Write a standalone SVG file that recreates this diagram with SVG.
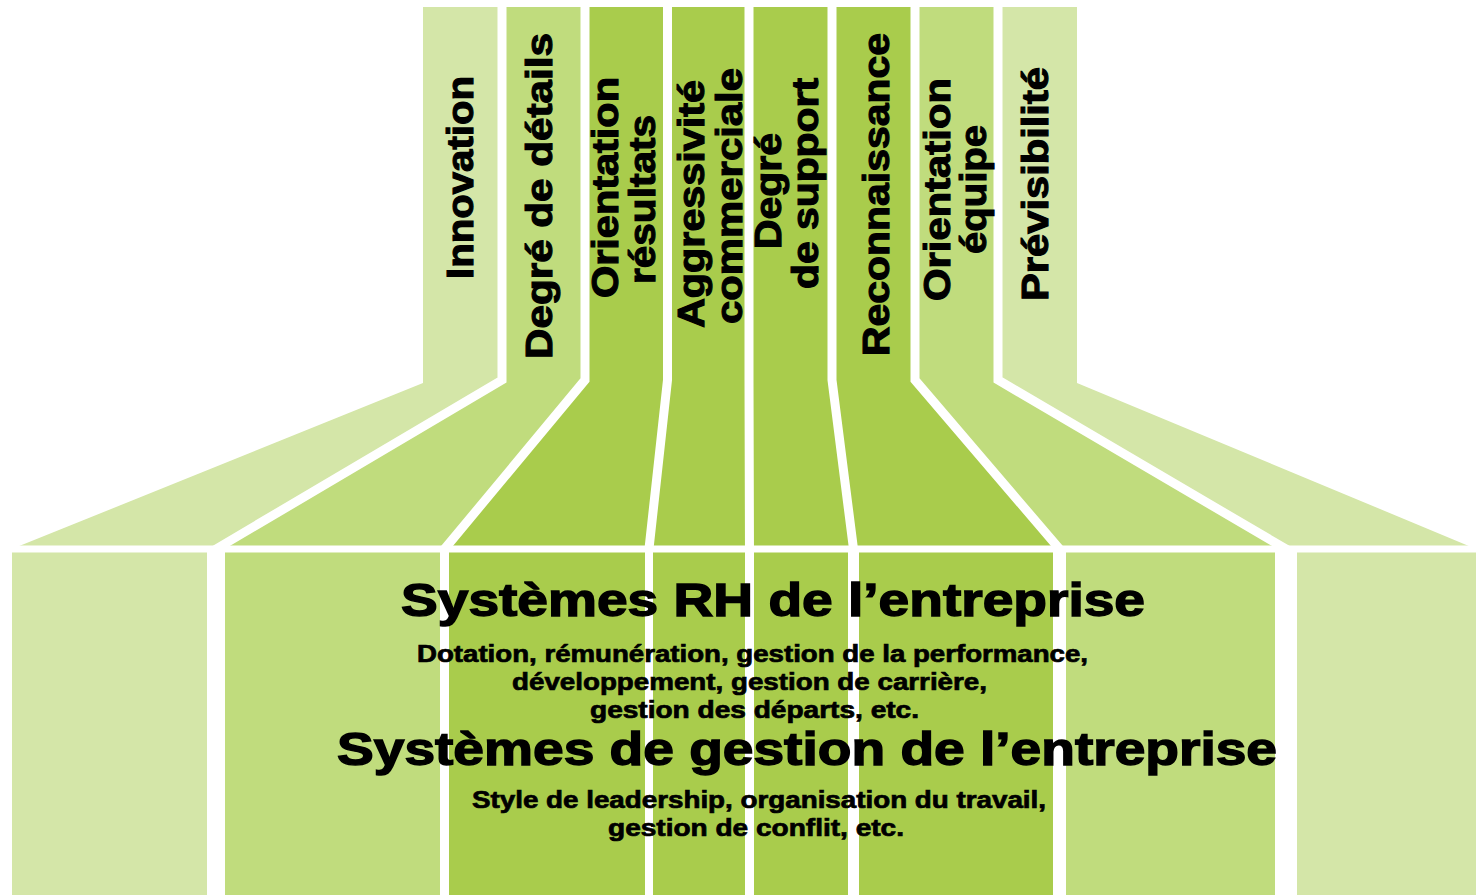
<svg xmlns="http://www.w3.org/2000/svg" width="1476" height="895" viewBox="0 0 1476 895">
  <style>
    .light { fill: #d4e6a8; }
    .medium { fill: #c0dc7d; }
    .dark { fill: #a9cc4c; }
    .sep { fill: none; stroke: #ffffff; stroke-width: 9; stroke-linejoin: miter; stroke-miterlimit: 10; }
    .lbl { font-family: "Liberation Sans", Arial, sans-serif; font-weight: bold; font-size: 36px; fill: #000000; stroke: #000000; stroke-width: 1.1px; }
    .big { font-family: "Liberation Sans", Arial, sans-serif; font-weight: bold; font-size: 46px; fill: #000000; stroke: #000000; stroke-width: 1.4px; }
    .small { font-family: "Liberation Sans", Arial, sans-serif; font-weight: bold; font-size: 23px; fill: #000000; stroke: #000000; stroke-width: 0.7px; }
  </style>
  <rect x="0" y="0" width="1476" height="895" fill="#ffffff"/>

  <g id="columns">
    <g id="col-innovation">
      <polygon class="light" points="418.5,7 502,7 502,380 216,549 0,549 418.5,380"/>
    </g>
    <g id="col-details">
      <polygon class="medium" points="502,7 585,7 585,380 444.5,549 216,549 502,380"/>
    </g>
    <g id="col-resultats">
      <polygon class="dark" points="585,7 667.5,7 667.5,380 649,549 444.5,549 585,380"/>
    </g>
    <g id="col-aggressivite">
      <polygon class="dark" points="667.5,7 749,7 749,380 749.5,549 649,549 667.5,380"/>
    </g>
    <g id="col-support">
      <polygon class="dark" points="749,7 832,7 832,380 853.5,549 749.5,549 749,380"/>
    </g>
    <g id="col-reconnaissance">
      <polygon class="dark" points="832,7 915,7 915,380 1059.5,549 853.5,549 832,380"/>
    </g>
    <g id="col-equipe">
      <polygon class="medium" points="915,7 998,7 998,380 1286,549 1059.5,549 915,380"/>
    </g>
    <g id="col-previsibilite">
      <polygon class="light" points="998,7 1081.5,7 1081.5,380 1488,549 1286,549 998,380"/>
    </g>
  </g>

  <g id="separators">
    <polyline class="sep" points="418.5,0 418.5,380 -17.3,556"/>
    <polyline class="sep" points="502,0 502,380 204.2,556"/>
    <polyline class="sep" points="585,0 585,380 438.7,556"/>
    <polyline class="sep" points="667.5,0 667.5,380 648.2,556"/>
    <polyline class="sep" points="749,0 749,380 749.5,556"/>
    <polyline class="sep" points="832,0 832,380 854.4,556"/>
    <polyline class="sep" points="915,0 915,380 1065.5,556"/>
    <polyline class="sep" points="998,0 998,380 1297.9,556"/>
    <polyline class="sep" points="1081.5,0 1081.5,380 1504.8,556"/>
    <rect x="0" y="545.5" width="1476" height="7" fill="#ffffff"/>
  </g>

  <g id="bases">
    <rect class="light" x="12" y="552.5" width="195" height="342.5"/>
    <rect class="medium" x="225" y="552.5" width="215" height="342.5"/>
    <rect class="dark" x="449" y="552.5" width="196" height="342.5"/>
    <rect class="dark" x="653" y="552.5" width="92" height="342.5"/>
    <rect class="dark" x="754" y="552.5" width="94" height="342.5"/>
    <rect class="dark" x="859" y="552.5" width="194" height="342.5"/>
    <rect class="medium" x="1066" y="552.5" width="209" height="342.5"/>
    <rect class="light" x="1297" y="552.5" width="179" height="342.5"/>
  </g>

  <g id="labels">
    <text class="lbl" transform="translate(473,279) rotate(-90)" textLength="203" lengthAdjust="spacingAndGlyphs">Innovation</text>
    <text class="lbl" transform="translate(552,359) rotate(-90)" textLength="326" lengthAdjust="spacingAndGlyphs">Degré de détails</text>
    <text class="lbl" transform="translate(618,298) rotate(-90)" textLength="221" lengthAdjust="spacingAndGlyphs">Orientation</text>
    <text class="lbl" transform="translate(655,284) rotate(-90)" textLength="169" lengthAdjust="spacingAndGlyphs">résultats</text>
    <text class="lbl" transform="translate(704,328) rotate(-90)" textLength="248" lengthAdjust="spacingAndGlyphs">Aggressivité</text>
    <text class="lbl" transform="translate(742,324) rotate(-90)" textLength="256" lengthAdjust="spacingAndGlyphs">commerciale</text>
    <text class="lbl" transform="translate(781,249) rotate(-90)" textLength="116" lengthAdjust="spacingAndGlyphs">Degré</text>
    <text class="lbl" transform="translate(818,289) rotate(-90)" textLength="211" lengthAdjust="spacingAndGlyphs">de support</text>
    <text class="lbl" transform="translate(889,356) rotate(-90)" textLength="323" lengthAdjust="spacingAndGlyphs">Reconnaissance</text>
    <text class="lbl" transform="translate(950,301) rotate(-90)" textLength="223" lengthAdjust="spacingAndGlyphs">Orientation</text>
    <text class="lbl" transform="translate(986,254) rotate(-90)" textLength="129" lengthAdjust="spacingAndGlyphs">équipe</text>
    <text class="lbl" transform="translate(1048,301) rotate(-90)" textLength="234" lengthAdjust="spacingAndGlyphs">Prévisibilité</text>
  </g>

  <g id="systems-text">
    <text class="big" x="401" y="616" textLength="744" lengthAdjust="spacingAndGlyphs">Systèmes RH de l’entreprise</text>
    <text class="small" x="417" y="662" textLength="671" lengthAdjust="spacingAndGlyphs">Dotation, rémunération, gestion de la performance,</text>
    <text class="small" x="512" y="690" textLength="475" lengthAdjust="spacingAndGlyphs">développement, gestion de carrière,</text>
    <text class="small" x="590" y="718" textLength="329" lengthAdjust="spacingAndGlyphs">gestion des départs, etc.</text>
    <text class="big" x="337" y="765" textLength="940" lengthAdjust="spacingAndGlyphs">Systèmes de gestion de l’entreprise</text>
    <text class="small" x="472" y="808" textLength="574" lengthAdjust="spacingAndGlyphs">Style de leadership, organisation du travail,</text>
    <text class="small" x="608" y="836" textLength="296" lengthAdjust="spacingAndGlyphs">gestion de conflit, etc.</text>
  </g>
</svg>
